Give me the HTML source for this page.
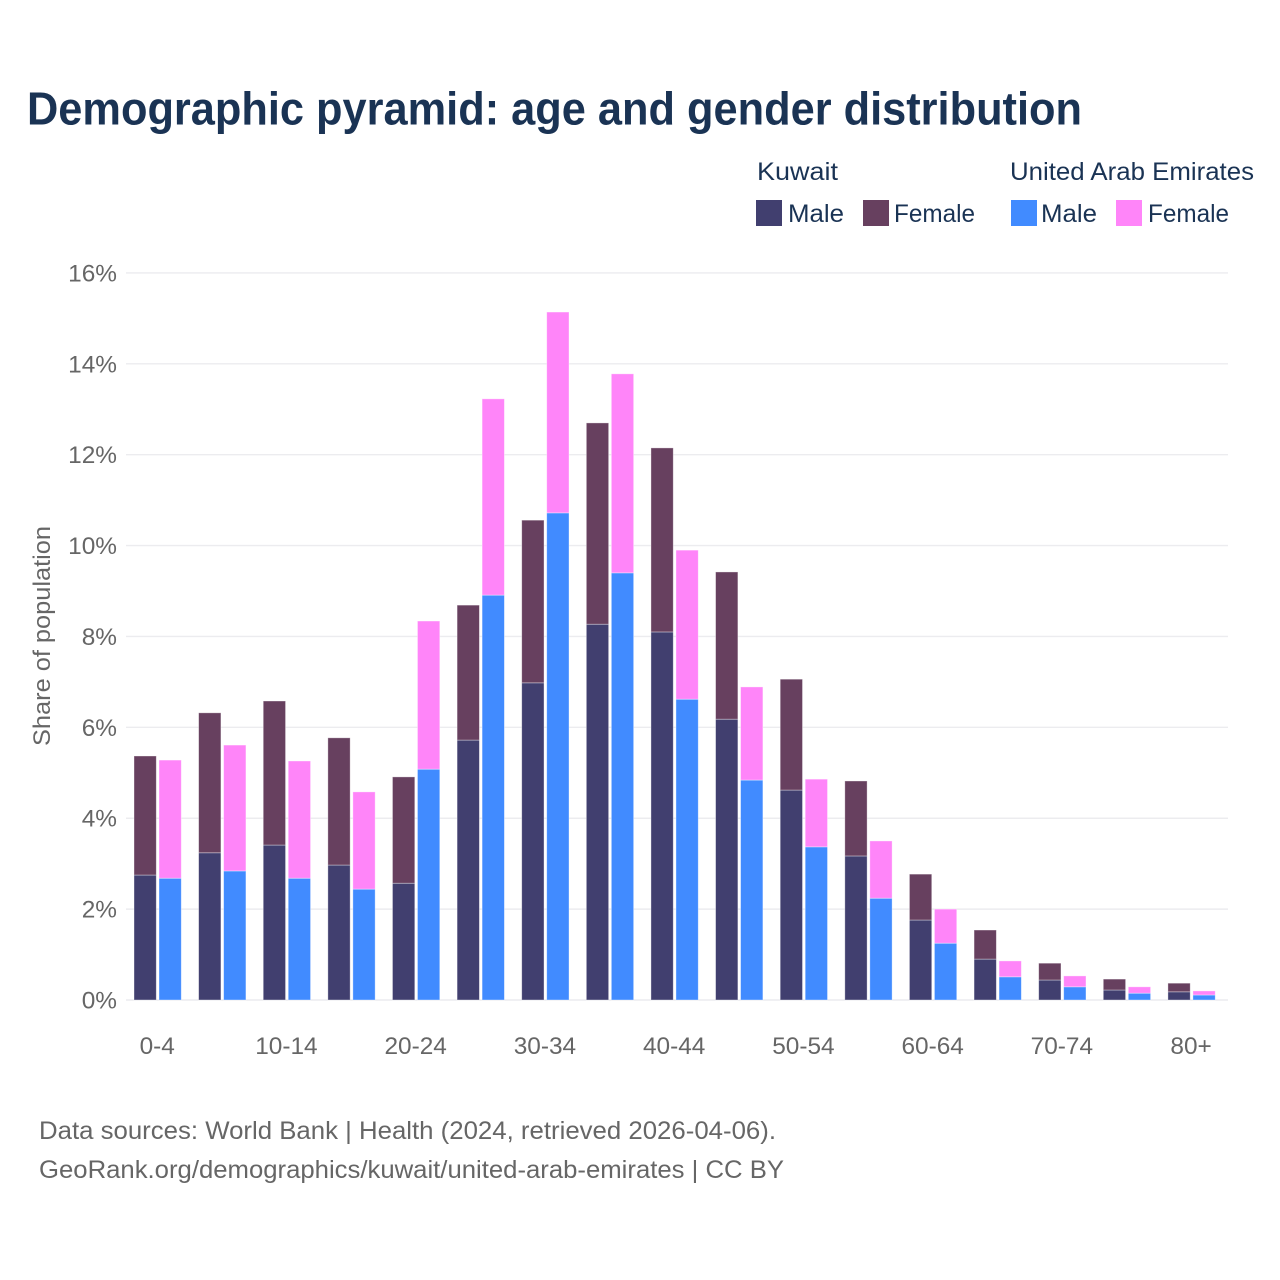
<!DOCTYPE html>
<html lang="en">
<head>
<meta charset="utf-8">
<title>Demographic pyramid: age and gender distribution</title>
<style>
  html, body { margin: 0; padding: 0; background: #fff; }
  svg { display: block; font-family: "Liberation Sans", sans-serif; }
  .title { font-size: 46px; font-weight: 700; fill: #1a3354; }
  .legend { font-size: 25px; fill: #1a3354; }
  .tick { font-size: 24.4px; fill: #666; }
  .foot { font-size: 25px; fill: #666; }
  .ytitle { font-size: 24px; fill: #666; }
</style>
</head>
<body>
<svg id="chart" xmlns="http://www.w3.org/2000/svg" width="1280" height="1280" viewBox="0 0 1280 1280">
  <rect x="0" y="0" width="1280" height="1280" fill="#fff"/>
  <text class="title" x="27" y="124.5" textLength="1055" lengthAdjust="spacingAndGlyphs">Demographic pyramid: age and gender distribution</text>

  <g>
    <text class="legend" x="757" y="180" textLength="81" lengthAdjust="spacingAndGlyphs">Kuwait</text>
    <text class="legend" x="1010" y="180" textLength="244" lengthAdjust="spacingAndGlyphs">United Arab Emirates</text>
    <rect x="756" y="200" width="26" height="26" fill="#413f6f"/>
    <text class="legend" x="788" y="222" textLength="56" lengthAdjust="spacingAndGlyphs">Male</text>
    <rect x="863" y="200" width="26" height="26" fill="#67405f"/>
    <text class="legend" x="894" y="222" textLength="81" lengthAdjust="spacingAndGlyphs">Female</text>
    <rect x="1011" y="200" width="26" height="26" fill="#418bff"/>
    <text class="legend" x="1041" y="222" textLength="56" lengthAdjust="spacingAndGlyphs">Male</text>
    <rect x="1116" y="200" width="26" height="26" fill="#ff85f9"/>
    <text class="legend" x="1148" y="222" textLength="81" lengthAdjust="spacingAndGlyphs">Female</text>
  </g>

  <g id="grid"></g>
  <g id="yticks"></g>
  <g id="bars"></g>
  <g id="xticks"></g>

  <text class="ytitle" transform="translate(50,636) rotate(-90)" text-anchor="middle" textLength="220" lengthAdjust="spacingAndGlyphs">Share of population</text>

  <text class="foot" x="39" y="1139" textLength="737" lengthAdjust="spacingAndGlyphs">Data sources: World Bank | Health (2024, retrieved 2026-04-06).</text>
  <text class="foot" x="39" y="1178" textLength="745" lengthAdjust="spacingAndGlyphs">GeoRank.org/demographics/kuwait/united-arab-emirates | CC BY</text>
</svg>

<script>
const categories = ["0-4","5-9","10-14","15-19","20-24","25-29","30-34","35-39","40-44","45-49","50-54","55-59","60-64","65-69","70-74","75-79","80+"];
const categoryLabels = ["0-4","","10-14","","20-24","","30-34","","40-44","","50-54","","60-64","","70-74","","80+"];
const kuwaitMale = [2.75,3.24,3.41,2.97,2.57,5.72,6.98,8.27,8.10,6.18,4.62,3.17,1.76,0.90,0.44,0.22,0.18];
const kuwaitFemale = [2.62,3.08,3.17,2.80,2.34,2.97,3.58,4.43,4.05,3.24,2.44,1.65,1.01,0.64,0.37,0.24,0.19];
const uaeMale = [2.68,2.84,2.68,2.44,5.08,8.91,10.72,9.40,6.62,4.84,3.37,2.24,1.25,0.51,0.29,0.15,0.11];
const uaeFemale = [2.60,2.77,2.58,2.14,3.26,4.32,4.42,4.38,3.28,2.05,1.49,1.26,0.75,0.35,0.24,0.14,0.09];
const yTicks = [0,2,4,6,8,10,12,14,16];

const NS = "http://www.w3.org/2000/svg";
const yScale = function (v) { return 1000 - v * 45.44; };
const xScale = function (i) { return 158 + i * 64.62; };
const BAR_W = 22.3;

function make(tag, parent, attrs) {
  const el = document.createElementNS(NS, tag);
  Object.keys(attrs).forEach(function (k) { el.setAttribute(k, attrs[k]); });
  parent.appendChild(el);
  return el;
}

const grid = document.getElementById("grid");
const yticks = document.getElementById("yticks");
yTicks.forEach(function (t) {
  const line = make("line", grid, { x1: 126, x2: 1228, y1: yScale(t), y2: yScale(t), stroke: "#ececef", "stroke-width": 1.4 });
  
  
  const label = make("text", yticks, { class: "tick", x: 117, y: yScale(t) + 8.5, "text-anchor": "end" });
  
  
  label.textContent = t + "%";
});

const barsGroup = document.getElementById("bars");
function drawBar(x, base, value, color, name) {
  const top = yScale(base + value);
  const rect = make("rect", barsGroup, {
    x: x, y: top, width: BAR_W, height: Math.max(0, yScale(base) - top),
    fill: color, stroke: "#fff", "stroke-opacity": 0.45, "stroke-width": 0.8
  });
  
  
}

categories.forEach(function (cat, i) {
  const c = xScale(i);
  const xK = c - 24;
  const xU = c + 1;
  drawBar(xK, 0, kuwaitMale[i], "#413f6f", "bar-kuwait-male-" + cat);
  drawBar(xK, kuwaitMale[i], kuwaitFemale[i], "#67405f", "bar-kuwait-female-" + cat);
  drawBar(xU, 0, uaeMale[i], "#418bff", "bar-uae-male-" + cat);
  drawBar(xU, uaeMale[i], uaeFemale[i], "#ff85f9", "bar-uae-female-" + cat);
});

const xticks = document.getElementById("xticks");
categoryLabels.forEach(function (lab, i) {
  if (!lab) return;
  const label = make("text", xticks, { class: "tick", x: xScale(i) - 0.8, y: 1054, "text-anchor": "middle" });
  
  
  label.textContent = lab;
});
</script>
</body>
</html>
